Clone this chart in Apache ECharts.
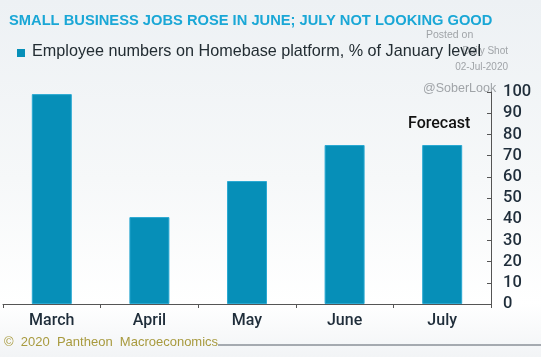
<!DOCTYPE html>
<html><head><meta charset="utf-8">
<script src="https://cdn.jsdelivr.net/npm/echarts@6/dist/echarts.min.js"></script>
<style>
html,body{margin:0;padding:0;}
#c{width:541px;height:357px;background:linear-gradient(to bottom,#edf1f4 0%,#f6f8f9 50%,#ffffff 85%,#f2f4f6 100%);}
</style></head>
<body><div id="c"></div>
<script>
const categories = ['March', 'April', 'May', 'June', 'July'];
const values = [99, 41, 58, 75, 75];
const yTicks = [0, 10, 20, 30, 40, 50, 60, 70, 80, 90, 100];

const chart = echarts.init(document.getElementById('c'), null, {renderer: 'canvas'});
const F = 'Liberation Sans, Arial, sans-serif';
const R = 'Roboto, Liberation Sans, sans-serif';
chart.setOption({
  animation: false,
  backgroundColor: 'transparent',
  grid: {left: 3, right: 50, top: 92, bottom: 53},
  xAxis: {
    type: 'category', data: categories,
    axisLine: {lineStyle: {color: '#555', width: 1}},
    axisTick: {show: true, length: 4, lineStyle: {color: '#555'}},
    axisLabel: {color: '#1f2d3a', fontSize: 16, fontFamily: R, fontWeight: 500, margin: 9}
  },
  yAxis: {
    type: 'value', position: 'right', min: yTicks[0], max: yTicks[yTicks.length - 1], interval: 10,
    splitLine: {show: false},
    axisLine: {show: true, lineStyle: {color: '#555', width: 1}},
    axisTick: {show: true, inside: true, length: 4, lineStyle: {color: '#555'}},
    axisLabel: {color: '#1f2d3a', fontSize: 16.5, fontFamily: R, fontWeight: 500, margin: 12}
  },
  series: [{
    type: 'bar', data: values, barWidth: 40,
    itemStyle: {color: '#068fb8', borderColor: '#2aa9d2', borderWidth: 1}
  }],
  graphic: [
    {type: 'text', left: 9, top: 13, style: {text: 'SMALL BUSINESS JOBS ROSE IN JUNE; JULY NOT LOOKING GOOD', fill: '#1aa7d6', font: 'bold 14.7px ' + F}},
    {type: 'text', left: 426, top: 30, style: {text: 'Posted on', fill: '#a0a4a8', font: '10.5px ' + F}},
    {type: 'text', right: 33, top: 46, style: {text: 'Daily Shot', fill: '#a0a4a8', font: '10px ' + F}},
    {type: 'text', right: 33, top: 62, style: {text: '02-Jul-2020', fill: '#a0a4a8', font: '10px ' + F}},
    {type: 'rect', shape: {x: 17, y: 49, width: 8, height: 8}, style: {fill: '#068fb8'}},
    {type: 'text', left: 32, top: 44, style: {text: 'Employee numbers on Homebase platform, % of January level', fill: '#232d33', font: '16.2px ' + F}},
    {type: 'text', left: 423, top: 82, style: {text: '@SoberLook', fill: '#a0a4a8', font: '12.5px ' + F}},
    {type: 'text', left: 408, top: 116, style: {text: 'Forecast', fill: '#111', font: '500 16px ' + R}},
    {type: 'text', left: 4, top: 336, style: {text: '©  2020  Pantheon  Macroeconomics', fill: '#a89a3e', font: '13px ' + F}},
    {type: 'line', shape: {x1: 218, y1: 345, x2: 541, y2: 345}, style: {stroke: '#8a9199', lineWidth: 1.5}}
  ]
});
</script></body></html>
